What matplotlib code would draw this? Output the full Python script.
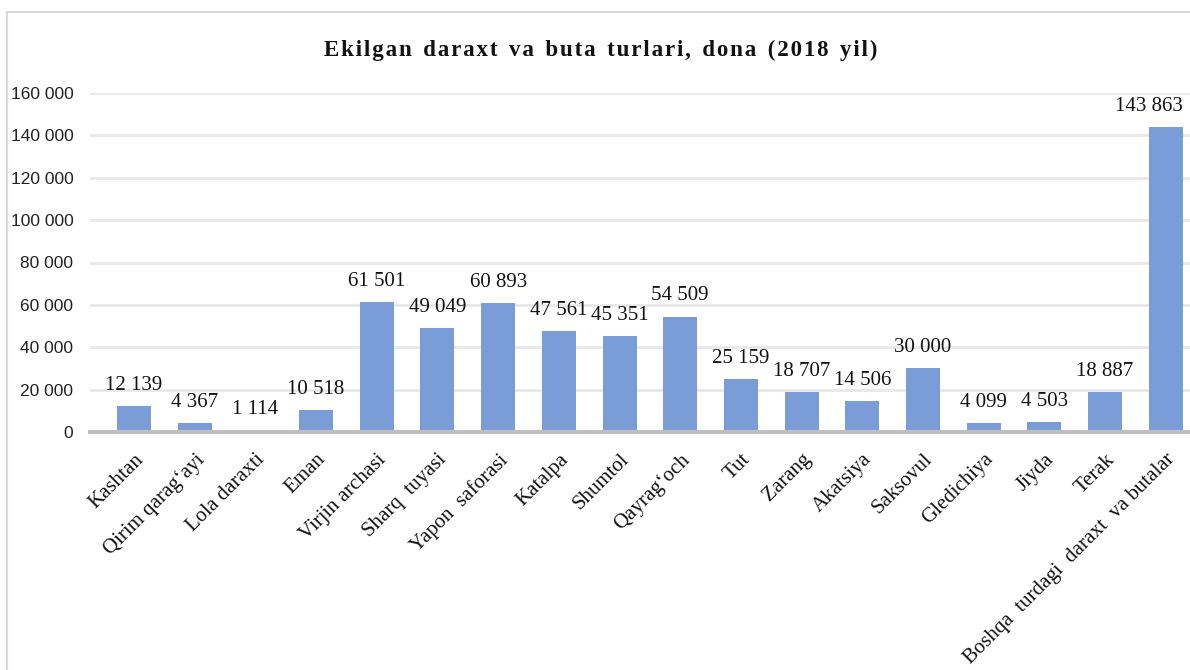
import matplotlib
matplotlib.use("Agg")
import matplotlib.pyplot as plt
from matplotlib.patches import Rectangle
from matplotlib.ticker import FuncFormatter

categories = ["Kashtan", "Qirim qarag‘ayi", "Lola daraxti", "Eman", "Virjin archasi",
              "Sharq  tuyasi", "Yapon  saforasi", "Katalpa", "Shumtol", "Qayrag‘och",
              "Tut", "Zarang", "Akatsiya", "Saksovul", "Gledichiya", "Jiyda", "Terak",
              "Boshqa  turdagi  daraxt  va butalar"]
values = [12139, 4367, 1114, 10518, 61501, 49049, 60893, 47561, 45351, 54509,
          25159, 18707, 14506, 30000, 4099, 4503, 18887, 143863]
yticks = [0, 20000, 40000, 60000, 80000, 100000, 120000, 140000, 160000]
title = "Ekilgan daraxt va buta turlari, dona (2018 yil)"

def fmt(v):
    return f"{int(v):,}".replace(",", " ")

def spaced(s):
    # letter-spaced title (hair spaces between characters)
    return "\u200a".join(s).replace("\u200a \u200a", "  ")

W, H = 1190, 670
fig = plt.figure(figsize=(W / 100, H / 100), dpi=100)
fig.patches.append(Rectangle((7 / W, -0.02), 1.1, 1 - 12 / H + 0.02, transform=fig.transFigure,
                             fill=False, edgecolor="#D9D9D9", linewidth=1.5))

left, right, top, bottom = 90, 1190, 93, 432
ax = fig.add_axes([left / W, 1 - bottom / H, (right - left) / W, (bottom - top) / H])
x = list(range(len(categories)))
ax.bar(x, values, width=0.56, color="#7A9DD8", zorder=3)
ax.set_xlim(-0.725, 17.4)
ax.set_ylim(0, 160000)
ax.set_yticks(yticks)
ax.yaxis.set_major_formatter(FuncFormatter(lambda v, p: fmt(v)))
ax.grid(axis="y", color="#E8E8E8", linewidth=2, zorder=0)
for s in ["top", "right", "left"]:
    ax.spines[s].set_visible(False)
ax.spines["bottom"].set_color("#BFBFBF")
ax.spines["bottom"].set_linewidth(3)
ax.spines["bottom"].set_zorder(4)
ax.tick_params(axis="both", length=0)
ax.tick_params(axis="y", pad=12)
for lab in ax.get_yticklabels():
    lab.set_fontfamily("Liberation Sans")
    lab.set_fontsize(12.5)
    lab.set_color("#222222")
ax.set_xticks(x)
ax.set_xticklabels(categories, rotation=45, ha="right", rotation_mode="anchor",
                   fontfamily="Liberation Serif", fontsize=15, color="#111111")
ax.tick_params(axis="x", pad=13)

n = len(values)
for xi, v in zip(x, values):
    if xi == n - 1:
        ax.annotate(fmt(v), (xi + 0.29, v), xytext=(0, 8), textcoords="offset points",
                    ha="right", va="bottom", fontfamily="Liberation Serif",
                    fontsize=15, color="#111111", zorder=5)
    else:
        ax.annotate(fmt(v), (xi, v), xytext=(0, 8), textcoords="offset points",
                    ha="center", va="bottom", fontfamily="Liberation Serif",
                    fontsize=15, color="#111111", zorder=5)

fig.text(601 / W, 1 - 50 / H, spaced(title), ha="center", va="center",
         fontfamily=["Liberation Serif", "DejaVu Serif"], fontweight="bold",
         fontsize=16.5, color="#111111")

fig.savefig("out.png", dpi=100)
